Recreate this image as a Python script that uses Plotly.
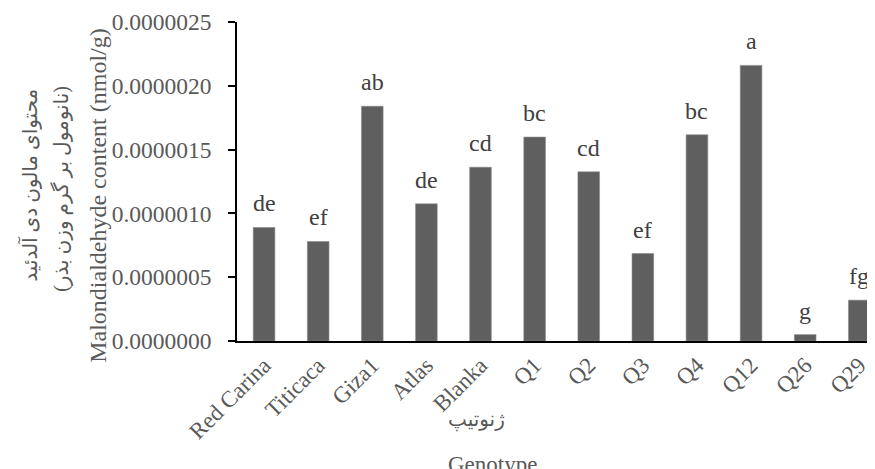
import plotly.graph_objects as go

genotypes = ["Red Carina", "Titicaca", "Giza1", "Atlas", "Blanka", "Q1", "Q2", "Q3", "Q4", "Q12", "Q26", "Q29"]
mda = [0.89e-6, 0.78e-6, 1.84e-6, 1.075e-6, 1.362e-6, 1.598e-6, 1.326e-6, 0.685e-6, 1.616e-6, 2.16e-6, 0.05e-6, 0.32e-6]
letters = ["de", "ef", "ab", "de", "cd", "bc", "cd", "ef", "bc", "a", "g", "fg"]
y_ticks = [0, 0.5e-6, 1.0e-6, 1.5e-6, 2.0e-6, 2.5e-6]

FONT = "Liberation Serif, Times New Roman, DejaVu Sans, serif"
GRAY = "#595959"
# page body has an 8px margin, so figure coordinates = screen - 8
OFF = 8
L, T, B, W = 237 - OFF, 22 - OFF, 128, 638

fig = go.Figure()
fig.add_trace(go.Bar(
    x=genotypes, y=mda, width=0.4,
    marker=dict(color="#5f5f5f", line=dict(color="#8a8a8a", width=0.6)),
    hoverinfo="skip",
))

annotations = []
for g, v, l in zip(genotypes, mda, letters):
    annotations.append(dict(x=g, y=v, xref="x", yref="y", text=l, showarrow=False,
                            yanchor="bottom", yshift=9,
                            font=dict(family=FONT, size=24, color="#404040")))

ytitle_lines = [
    ("محتوای مالون دی آلدئید", -207, 0.487, 20),
    ("(نانومول بر گرم وزن بذر)", -175, 0.477, 20),
    ("Malondialdehyde content (nmol/g)", -139, 0.455, 24),
]
for t, xs, yy, fs in ytitle_lines:
    annotations.append(dict(x=0, y=yy, xref="paper", yref="paper", xshift=xs, text=t,
                            showarrow=False, textangle=-90, xanchor="center", yanchor="middle",
                            font=dict(family=FONT, size=fs, color=GRAY)))

annotations.append(dict(x=(476 - 237) / W, y=0, xref="paper", yref="paper", yshift=-(420 - 341),
                        text="ژنوتیپ", showarrow=False, xanchor="center", yanchor="middle",
                        font=dict(family=FONT, size=20, color=GRAY)))
annotations.append(dict(x=(492 - 237) / W, y=0, xref="paper", yref="paper", yshift=-(464 - 341),
                        text="Genotype", showarrow=False, xanchor="center", yanchor="middle",
                        font=dict(family=FONT, size=23, color=GRAY)))

fig.update_layout(
    width=875 - OFF, height=469 - OFF,
    margin=dict(l=L, r=0, t=T, b=B, autoexpand=False),
    paper_bgcolor="white", plot_bgcolor="white",
    showlegend=False,
    font=dict(family=FONT, size=23, color=GRAY),
    annotations=annotations,
    xaxis=dict(
        range=[-0.5, 11.29], tickangle=-45, showline=True, linecolor="black", linewidth=1.5,
        showgrid=False, ticks="", tickfont=dict(family=FONT, size=23, color=GRAY),
        zeroline=False, automargin=False,
    ),
    yaxis=dict(
        range=[0, 2.5e-6], tickvals=y_ticks, tickformat=".7f", showline=True,
        linecolor="black", linewidth=1.5, ticks="outside", ticklen=7, tickwidth=1.5,
        tickcolor="black", showgrid=False, zeroline=False, automargin=False,
        ticklabelstandoff=12,
        tickfont=dict(family=FONT, size=23.5, color=GRAY),
    ),
)

fig.write_html("out.html")
